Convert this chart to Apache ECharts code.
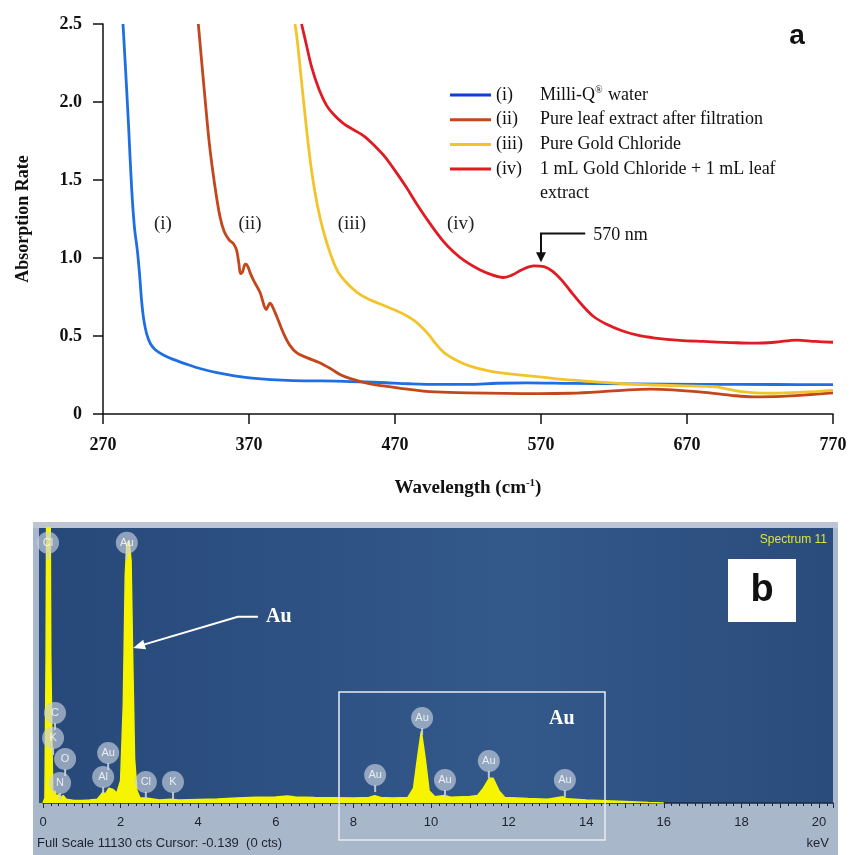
<!DOCTYPE html>
<html>
<head>
<meta charset="utf-8">
<script src="https://cdn.jsdelivr.net/npm/echarts@6/dist/echarts.min.js"></script>
<style>
  html, body { margin: 0; padding: 0; background: #fff; }
  #main { width: 851px; height: 855px; }
</style>
</head>
<body>
<div id="main"></div>
<script>
// panel a - UV-Vis spectra (wavelength, absorption)
const wlWater  = [283.7, 285.5, 287.5, 289.6, 291.5, 293.5, 295, 296.5, 298, 300, 302.5, 306, 311, 318, 327, 337, 348, 360, 372, 385, 400, 420, 440, 460, 480, 500, 520, 540, 560, 590, 630, 680, 730, 770];
const absWater = [2.5, 2.2, 1.85, 1.45, 1.2, 1.05, 0.9, 0.72, 0.6, 0.51, 0.45, 0.41, 0.38, 0.35, 0.32, 0.29, 0.265, 0.245, 0.23, 0.22, 0.214, 0.212, 0.208, 0.202, 0.194, 0.19, 0.19, 0.197, 0.199, 0.196, 0.193, 0.19, 0.189, 0.188];

const wlLeaf  = [335.3, 337, 339.9, 343, 346.5, 350, 353, 356.5, 359.5, 361.5, 363, 364.2, 365.5, 367.5, 369, 371, 373.5, 377.5, 380.5, 381.8, 383, 384.4, 386, 389, 393.5, 398, 403, 410, 418, 426, 433, 440, 450, 462, 475, 494, 520, 545, 569, 590, 610, 630, 645, 660, 680, 700, 715, 735, 755, 770];
const absLeaf = [2.5, 2.32, 2.02, 1.72, 1.47, 1.27, 1.17, 1.115, 1.09, 1.05, 0.97, 0.9, 0.91, 0.96, 0.95, 0.9, 0.85, 0.78, 0.69, 0.67, 0.69, 0.71, 0.69, 0.625, 0.52, 0.44, 0.39, 0.36, 0.33, 0.29, 0.25, 0.225, 0.2, 0.18, 0.163, 0.143, 0.136, 0.132, 0.13, 0.133, 0.142, 0.155, 0.16, 0.155, 0.14, 0.12, 0.11, 0.113, 0.125, 0.135];

const wlGold  = [401.5, 403, 406, 409.5, 413, 417, 421, 426, 431, 437, 444, 452, 460, 469, 477, 483, 488, 493, 498, 504, 512, 522, 535, 550, 567, 585, 601, 625, 647, 670, 688, 698, 706, 716, 730, 750, 770];
const absGold = [2.5, 2.4, 2.13, 1.82, 1.55, 1.33, 1.17, 1.02, 0.91, 0.84, 0.78, 0.735, 0.705, 0.67, 0.635, 0.6, 0.56, 0.51, 0.45, 0.39, 0.345, 0.305, 0.275, 0.255, 0.24, 0.222, 0.21, 0.195, 0.186, 0.18, 0.175, 0.16, 0.145, 0.136, 0.133, 0.14, 0.152];

const wlMix  = [406, 409, 413, 418, 423, 428, 435, 442, 449, 456, 463, 470, 478, 486, 494, 502, 510, 518, 528, 537, 544, 550, 557, 565, 572, 578, 584, 590, 598, 606, 615, 625, 636, 648, 665, 681, 700, 715, 730, 745, 758, 770];
const absMix = [2.5, 2.38, 2.22, 2.08, 1.98, 1.92, 1.86, 1.82, 1.78, 1.72, 1.65, 1.56, 1.45, 1.33, 1.22, 1.12, 1.04, 0.98, 0.925, 0.89, 0.875, 0.89, 0.925, 0.95, 0.945, 0.915, 0.86, 0.79, 0.7, 0.625, 0.575, 0.535, 0.505, 0.487, 0.472, 0.465, 0.458, 0.454, 0.46, 0.474, 0.465, 0.46];

const seriesNames = ['(i)', '(ii)', '(iii)', '(iv)'];
const seriesDesc  = ['Milli-Q® water', 'Pure leaf extract after filtration', 'Pure Gold Chloride', '1 mL Gold Chloride + 1 mL leaf'];
const lineColors  = ['#1f6fe3', '#c4461c', '#f3c42a', '#e01b23'];
const iconColors  = ['#0c3fd6', '#c4461c', '#f3c42a', '#e01b23'];
const xTicksA = [270, 370, 470, 570, 670, 770];
// where the (i)..(iv) tags sit (wavelength, absorption)
const tagWl  = [311, 370.7, 440.5, 515];
const tagAbs = [1.215, 1.215, 1.215, 1.215];

// panel b - EDX spectrum (keV, counts)
const specKeV = [0, 0.05, 0.08, 0.1, 0.18, 0.2, 0.25, 0.3, 0.35, 0.4, 0.45, 0.52, 0.6, 0.8, 1.0, 1.2, 1.4, 1.5, 1.55, 1.6, 1.7, 1.8, 1.9, 2.0, 2.07, 2.12, 2.16, 2.22, 2.27, 2.31, 2.36, 2.42, 2.5, 2.65, 2.7, 3.0, 3.3, 3.35, 3.5, 4.0, 4.5, 5.0, 5.5, 6.0, 6.3, 6.5, 7.0, 7.5, 8.0, 8.4, 8.55, 8.7, 9.0, 9.4, 9.55, 9.65, 9.75, 9.85, 9.95, 10.1, 10.35, 10.5, 11.0, 11.2, 11.35, 11.5, 11.6, 11.75, 11.9, 12.5, 13.0, 13.4, 13.5, 14.0, 14.5, 15.0, 15.6, 16.0];
const specCts = [0, 200, 6000, 14000, 14000, 6000, 400, 500, 250, 350, 200, 300, 150, 100, 100, 120, 150, 350, 450, 350, 600, 550, 400, 900, 4000, 9200, 10500, 10600, 9800, 6000, 1800, 500, 200, 200, 150, 120, 150, 180, 120, 140, 160, 200, 230, 240, 280, 240, 220, 210, 200, 220, 300, 220, 200, 220, 600, 1800, 2900, 1800, 500, 250, 300, 230, 260, 300, 600, 1000, 1000, 500, 220, 180, 150, 250, 170, 120, 90, 60, 20, 0];
const fullScale = 11130;
const xTicksB = [0, 2, 4, 6, 8, 10, 12, 14, 16, 18, 20];
const peakTags = ['Cl', 'Au', 'C', 'K', 'O', 'N', 'Au', 'Al', 'Cl', 'K', 'Au', 'Au', 'Au', 'Au', 'Au'];
const peakKeV  = [0.13, 2.16, 0.31, 0.26, 0.57, 0.44, 1.68, 1.55, 2.65, 3.35, 8.56, 9.77, 10.36, 11.49, 13.45];
const peakCts  = [10530, 10530, 3645, 2630, 1780, 810, 2025, 1050, 850, 850, 1130, 3440, 930, 1700, 930];

const serif = '"Liberation Serif", "Times New Roman", serif';
const sans = '"Liberation Sans", Arial, sans-serif';

const chart = echarts.init(document.getElementById('main'));

const pairs = (xs, ys) => xs.map((x, i) => [x, ys[i]]);
const curves = [pairs(wlWater, absWater), pairs(wlLeaf, absLeaf), pairs(wlGold, absGold), pairs(wlMix, absMix)];

const lineSeries = curves.map((d, i) => ({
  name: seriesNames[i],
  type: 'line',
  xAxisIndex: 0, yAxisIndex: 0,
  data: d,
  showSymbol: false,
  smooth: 0.35,
  clip: true,
  lineStyle: { color: lineColors[i], width: 2.8, join: 'round' },
  itemStyle: { color: iconColors[i] },
  silent: true,
  z: 3 + (i === 0 ? 0 : 1)
}));

chart.setOption({
  animation: false,
  backgroundColor: '#fff',
  grid: [
    { left: 103, top: 24, width: 730, height: 390 },
    { left: 43, top: 528, width: 790, height: 275 }
  ],
  legend: {
    orient: 'vertical',
    left: 450, top: 85, padding: 0,
    itemWidth: 41, itemHeight: 3, itemGap: 6.7,
    icon: 'rect',
    data: seriesNames,
    selectedMode: false,
    formatter: name => {
      const i = seriesNames.indexOf(name);
      return '{n|' + name + '}' + seriesDesc[i].split('®').map(s => '{d|' + s + '}').join('{sup|®}');
    },
    textStyle: {
      fontFamily: serif, fontSize: 18, color: '#111',
      rich: {
        n: { width: 44, fontFamily: serif, fontSize: 18, lineHeight: 20, color: '#111' },
        d: { fontFamily: serif, fontSize: 18, lineHeight: 20, color: '#111' },
        sup: { fontFamily: serif, fontSize: 10, lineHeight: 20, verticalAlign: 'top', padding: [0, 1, 9, 0], color: '#111' }
      }
    }
  },
  xAxis: [
    {
      type: 'value', gridIndex: 0, min: 270, max: 770, interval: 100,
      name: 'Wavelength (cm{sup|-1})', nameLocation: 'middle', nameGap: 64,
      nameTextStyle: {
        fontFamily: serif, fontSize: 19, fontWeight: 'bold', color: '#111',
        rich: { sup: { fontFamily: serif, fontSize: 11, fontWeight: 'bold', verticalAlign: 'top', padding: [0, 0, 9, 0], color: '#111' } }
      },
      axisLine: { show: true, lineStyle: { color: '#111', width: 1.5 } },
      axisTick: { show: true, length: 10, inside: false, lineStyle: { color: '#111', width: 1.5 } },
      axisLabel: { margin: 22, fontFamily: serif, fontSize: 18, fontWeight: 'bold', color: '#111',
        formatter: v => xTicksA.includes(v) ? String(v) : '' },
      splitLine: { show: false }
    },
    {
      type: 'value', gridIndex: 1, min: 0, max: 20.36, interval: 1,
      axisLine: { show: true, onZero: false, lineStyle: { color: '#1b2a42', width: 1.5 } },
      axisTick: { show: true, length: 5, inside: false, lineStyle: { color: '#1b2a42', width: 1 } },
      minorTick: { show: true, splitNumber: 5, length: 3, lineStyle: { color: '#1b2a42', width: 1 } },
      axisLabel: { margin: 13, fontFamily: sans, fontSize: 13, color: '#1d2230',
        formatter: v => xTicksB.includes(v) ? String(v) : '' },
      splitLine: { show: false }
    }
  ],
  yAxis: [
    {
      type: 'value', gridIndex: 0, min: 0, max: 2.5, interval: 0.5,
      name: 'Absorption Rate', nameLocation: 'middle', nameGap: 71,
      nameTextStyle: { fontFamily: serif, fontSize: 18, fontWeight: 'bold', color: '#111' },
      axisLine: { show: true, lineStyle: { color: '#111', width: 1.5 } },
      axisTick: { show: true, length: 10, inside: false, lineStyle: { color: '#111', width: 1.5 } },
      axisLabel: { margin: 21, fontFamily: serif, fontSize: 18, fontWeight: 'bold', color: '#111',
        formatter: v => v === 0 ? '0' : v.toFixed(1) },
      splitLine: { show: false }
    },
    {
      type: 'value', gridIndex: 1, min: 0, max: fullScale, show: false,
      splitLine: { show: false }
    }
  ],
  series: lineSeries.concat([
    {
      name: 'EDX', type: 'line', xAxisIndex: 1, yAxisIndex: 1,
      data: pairs(specKeV, specCts),
      showSymbol: false, clip: true, silent: true,
      lineStyle: { color: '#f6f400', width: 1.5 },
      areaStyle: { color: '#f6f400', opacity: 1 },
      z: 3
    },
    {
      name: 'tags', type: 'scatter', xAxisIndex: 1, yAxisIndex: 1,
      data: peakTags.map((t, i) => ({ name: t, value: [peakKeV[i], peakCts[i]] })),
      symbol: 'circle', symbolSize: 22, silent: true,
      itemStyle: { color: 'rgba(200,209,222,0.82)' },
      label: { show: true, position: 'inside', formatter: p => p.name, fontFamily: sans, fontSize: 11, color: '#fff' },
      z: 5
    }
  ])
});

// annotations placed through the axes
const pA = p => chart.convertToPixel({ gridIndex: 0 }, p);
const pB = p => chart.convertToPixel({ gridIndex: 1 }, p);

function arrowHead(tip, from, len, half, color) {
  const dx = tip[0] - from[0], dy = tip[1] - from[1];
  const L = Math.hypot(dx, dy), ux = dx / L, uy = dy / L;
  const bx = tip[0] - ux * len, by = tip[1] - uy * len;
  return { type: 'polygon', z: 20,
    shape: { points: [tip, [bx - uy * half, by + ux * half], [bx + uy * half, by - ux * half]] },
    style: { fill: color } };
}

const graphics = [];
// panel b frame + plot background
graphics.push({ type: 'rect', z: -20, silent: true, shape: { x: 33, y: 522, width: 805, height: 333 }, style: { fill: '#a9b7ca' } });
graphics.push({ type: 'rect', z: -19, silent: true, shape: { x: 33, y: 522, width: 805, height: 6 }, style: { fill: '#bcc5d1' } });
graphics.push({ type: 'rect', z: -18, silent: true, shape: { x: 39, y: 528, width: 794, height: 275 },
  style: { fill: new echarts.graphic.LinearGradient(0, 0, 1, 0, [
    { offset: 0, color: '#27497a' }, { offset: 0.6, color: '#33588a' }, { offset: 1, color: '#2a4c7c' }]) } });

// stems under the element tags
peakTags.forEach((t, i) => {
  const c = pB([peakKeV[i], peakCts[i]]);
  graphics.push({ type: 'line', z: 4, silent: true, shape: { x1: c[0], y1: c[1] + 10, x2: c[0], y2: c[1] + 17 },
    style: { stroke: 'rgba(200,209,222,0.9)', lineWidth: 2 } });
});

// (i)..(iv) tags
tagWl.forEach((w, i) => {
  const p = pA([w, tagAbs[i]]);
  graphics.push({ type: 'text', z: 20, x: p[0], y: p[1],
    style: { text: seriesNames[i], font: '19px ' + serif, fill: '#222', textAlign: 'center', textVerticalAlign: 'middle' } });
});
// second legend line
graphics.push({ type: 'text', z: 20, x: 540, y: 193,
  style: { text: 'extract', font: '18px ' + serif, fill: '#111', textAlign: 'left', textVerticalAlign: 'middle' } });
// panel label a
graphics.push({ type: 'text', z: 20, x: 797, y: 36,
  style: { text: 'a', font: 'bold 28px ' + sans, fill: '#111', textAlign: 'center', textVerticalAlign: 'middle' } });

// 570 nm arrow
const a0 = pA([600.3, 1.157]), a1 = pA([570, 1.157]), a2 = pA([570, 0.972]);
graphics.push({ type: 'polyline', z: 20, shape: { points: [a0, a1, [a2[0], a2[1] - 8]] }, style: { stroke: '#111', lineWidth: 2, fill: null } });
graphics.push(arrowHead(a2, a1, 10, 5, '#111'));
graphics.push({ type: 'text', z: 20, x: a0[0] + 8, y: a0[1] + 2,
  style: { text: '570 nm', font: '18px ' + serif, fill: '#111', textAlign: 'left', textVerticalAlign: 'middle' } });

// panel b texts
const b0 = pB([5.54, 7533]), b1 = pB([5.02, 7533]), b2 = pB([2.4, 6318]);
graphics.push({ type: 'polyline', z: 20, shape: { points: [b0, b1, b2] }, style: { stroke: '#fff', lineWidth: 2, fill: null } });
graphics.push(arrowHead([b2[0] - 3, b2[1] + 1], b1, 12, 5, '#fff'));
graphics.push({ type: 'text', z: 20, x: b0[0] + 8, y: b0[1],
  style: { text: 'Au', font: 'bold 20px ' + serif, fill: '#fff', textAlign: 'left', textVerticalAlign: 'middle' } });
graphics.push({ type: 'rect', z: 20, silent: true, shape: { x: 339, y: 692, width: 266, height: 148 },
  style: { fill: null, stroke: '#e8edf3', lineWidth: 1.5 } });
graphics.push({ type: 'text', z: 20, x: 549, y: 719,
  style: { text: 'Au', font: 'bold 20px ' + serif, fill: '#fff', textAlign: 'left', textVerticalAlign: 'middle' } });
graphics.push({ type: 'rect', z: 20, shape: { x: 728, y: 559, width: 68, height: 63 }, style: { fill: '#fff' } });
graphics.push({ type: 'text', z: 21, x: 762, y: 591,
  style: { text: 'b', font: 'bold 38px ' + sans, fill: '#111', textAlign: 'center', textVerticalAlign: 'middle' } });
graphics.push({ type: 'text', z: 20, x: 827, y: 540,
  style: { text: 'Spectrum 11', font: '12px ' + sans, fill: '#dfe33a', textAlign: 'right', textVerticalAlign: 'middle' } });
graphics.push({ type: 'text', z: 20, x: 37, y: 843,
  style: { text: 'Full Scale 11130 cts Cursor: -0.139  (0 cts)', font: '13px ' + sans, fill: '#1d2230', textAlign: 'left', textVerticalAlign: 'middle' } });
graphics.push({ type: 'text', z: 20, x: 829, y: 843,
  style: { text: 'keV', font: '13px ' + sans, fill: '#1d2230', textAlign: 'right', textVerticalAlign: 'middle' } });

chart.setOption({ graphic: { elements: graphics } });
</script>
</body>
</html>
